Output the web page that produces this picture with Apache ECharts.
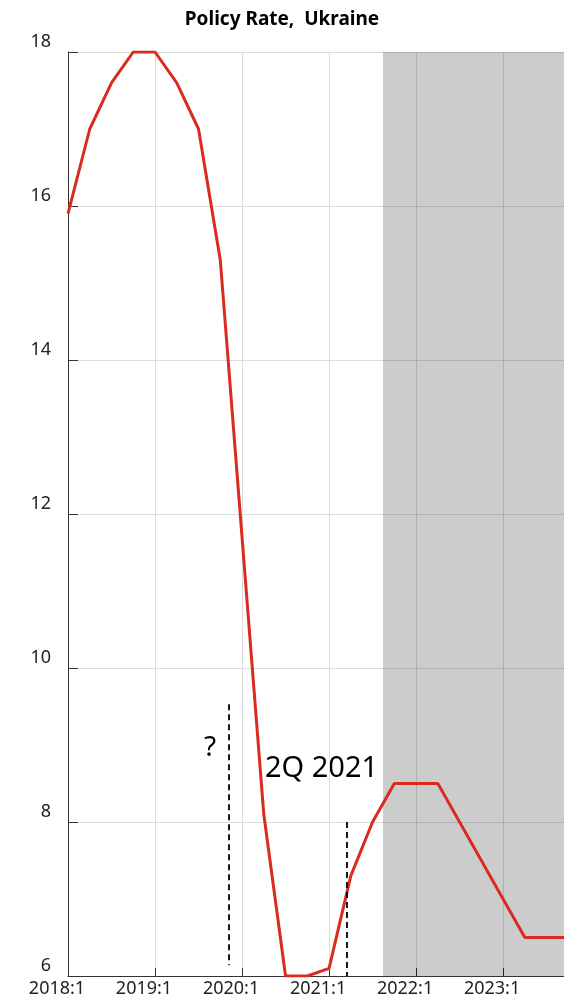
<!DOCTYPE html>
<html>
<head>
<meta charset="utf-8">
<script src="https://cdn.jsdelivr.net/npm/echarts@6/dist/echarts.min.js"></script>
<style>
  html, body { margin: 0; padding: 0; background: #fff; }
  #chart { width: 564px; height: 1003px; }
</style>
</head>
<body>
<div id="chart"></div>
<script>
// quarters counted from 2018:1 (0) onward
const quarters = [0, 1, 2, 3, 4, 5, 6, 7, 8, 9, 10, 11, 12, 13, 14, 15, 16, 17, 18, 19, 20, 21, 22, 23];
const policyRate = [15.9, 17.0, 17.6, 18.0, 18.0, 17.6, 17.0, 15.3, 11.7, 8.1, 6.0, 6.0,
                    6.1, 7.3, 8.0, 8.5, 8.5, 8.5, 8.0, 7.5, 7.0, 6.5, 6.5, 6.5];
const yearTicks = ['2018:1', '2019:1', '2020:1', '2021:1', '2022:1', '2023:1'];
const forecastStart = 14.48;
const questionLine = [[7.4, 9.53], [7.4, 6.14]];
const q2Line = [[12.81, 8.0], [12.81, 6.0]];

const font = 'Noto Sans';
const chart = echarts.init(document.getElementById('chart'));

chart.setOption({
  animation: false,
  title: {
    text: 'Policy Rate,  Ukraine',
    left: 'center',
    top: 5,
    textStyle: { fontFamily: font, fontSize: 19, fontWeight: 'bold', color: '#000' }
  },
  grid: { left: 68, right: 0, top: 52, bottom: 27 },
  xAxis: {
    type: 'value',
    min: 0,
    max: 22.8,
    interval: 4,
    axisLine: { lineStyle: { color: '#333' } },
    axisTick: { inside: true, length: 8, lineStyle: { color: '#333' } },
    splitLine: { show: true, lineStyle: { color: '#dcdcdc' } },
    axisLabel: {
      fontFamily: font, fontSize: 18, color: '#222', margin: 4,
      padding: [0, 22, 0, 0],
      showMaxLabel: false,
      formatter: v => (v % 4 === 0 ? yearTicks[v / 4] : '')
    }
  },
  yAxis: {
    type: 'value',
    min: 6,
    max: 18,
    interval: 2,
    axisLine: { show: true, lineStyle: { color: '#333' } },
    axisTick: { show: true, inside: true, length: 10, lineStyle: { color: '#333' } },
    splitLine: { show: true, lineStyle: { color: '#dcdcdc' } },
    axisLabel: {
      fontFamily: font, fontSize: 18, color: '#222', margin: 17,
      verticalAlign: 'bottom', lineHeight: 20
    }
  },
  series: [
    {
      type: 'line',
      data: quarters.map((q, i) => [q, policyRate[i]]),
      showSymbol: false,
      clip: true,
      lineStyle: { color: '#d92b1f', width: 3 },
      z: 3,
      markArea: {
        silent: true,
        itemStyle: { color: 'rgba(0,0,0,0.2)' },
        data: [[{ xAxis: forecastStart }, { xAxis: 22.8 }]]
      },
      markLine: {
        silent: true,
        symbol: 'none',
        label: { show: false },
        lineStyle: { color: '#000', type: [6, 4], width: 1.8 },
        data: [
          [{ coord: questionLine[0] }, { coord: questionLine[1] }],
          [{ coord: q2Line[0] }, { coord: q2Line[1] }]
        ]
      }
    }
  ],
  graphic: [
    {
      type: 'text', left: 204, top: 734,
      style: { text: '?', font: '28px "Noto Sans"', fill: '#000' }
    },
    {
      type: 'text', left: 265, top: 754,
      style: { text: '2Q 2021', font: '29px "Noto Sans"', fill: '#000' }
    }
  ]
});
</script>
</body>
</html>
